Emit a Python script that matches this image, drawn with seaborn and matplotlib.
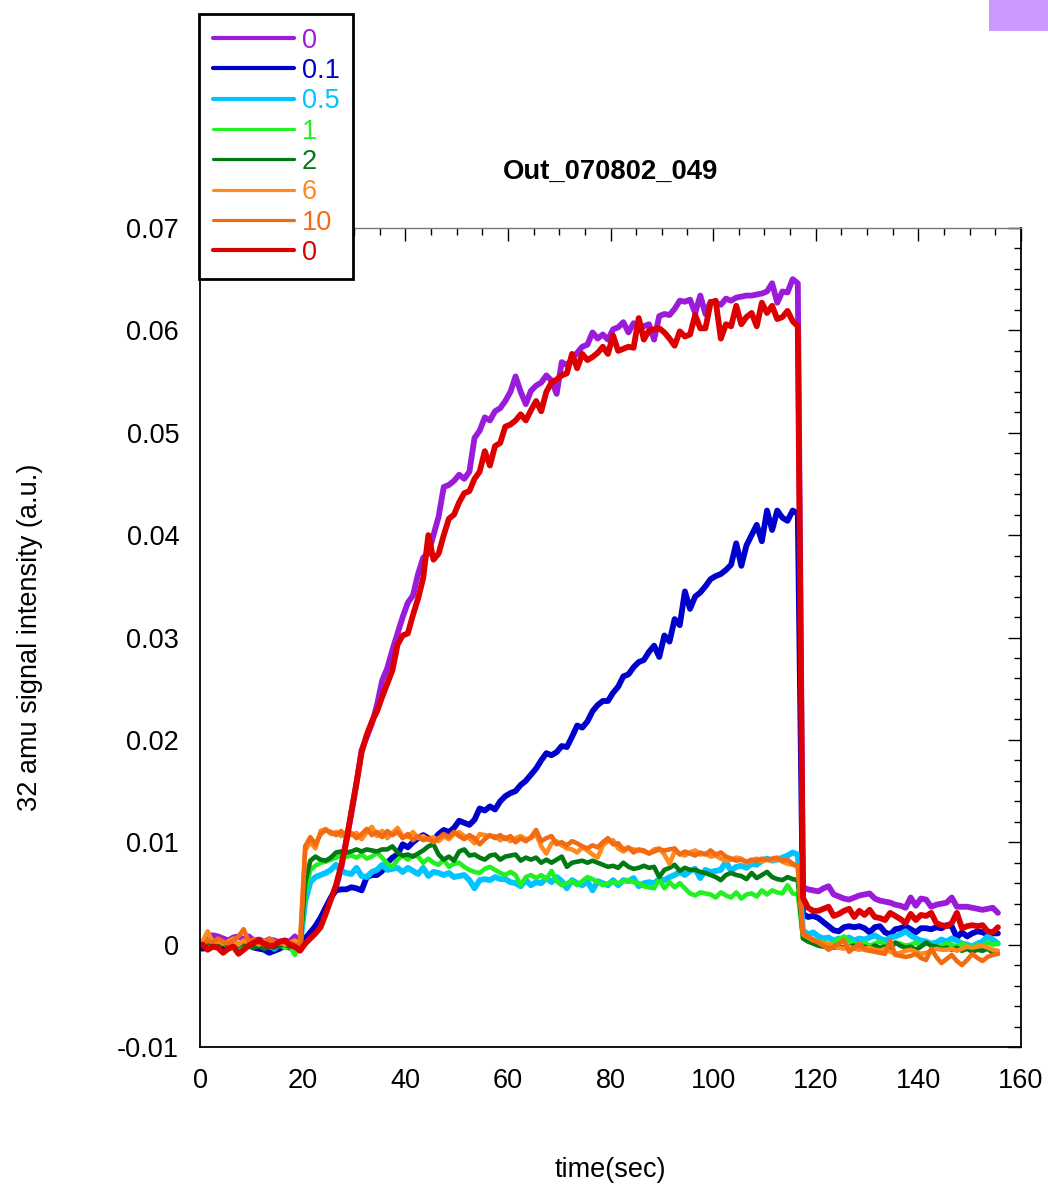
import numpy as np
import pandas as pd
import matplotlib
matplotlib.use("Agg")
import matplotlib.pyplot as plt
import seaborn as sns
from matplotlib.lines import Line2D
from matplotlib.patches import Rectangle
from matplotlib.ticker import MultipleLocator, FuncFormatter

# 1 s sampling clock of the mass spectrometer trace
time_s = np.arange(156) + 0.5

series_labels = ["0", "0.1", "0.5", "1", "2", "6", "10", "0"]
series_colors = ["#9A1BD9", "#0000CC", "#00C4FF", "#22F022", "#007A12",
                 "#FF8A1E", "#F26A12", "#DD0000"]
series_widths = [4.2, 4.2, 4.2, 3.3, 3.3, 3.3, 3.3, 4.2]
legend_widths = [3.0, 3.0, 3.0, 2.3, 2.3, 2.3, 2.3, 3.0]

sig_0_first = [
    0.0002, 0.0009, 0.0009, 0.0008, 0.0006, 0.0004, 0.0007, 0.0008, 0.0005, 0.0008,
    0.0004, 0.0005, 0.0003, 0.0005, 0.0004, 0.0002, 0.0004, 0.0003, 0.0008, 0.0001,
    0.0003, 0.0010, 0.0018, 0.0026, 0.0036, 0.0045, 0.0056, 0.0074, 0.0102, 0.0128,
    0.0158, 0.0190, 0.0203, 0.0216, 0.0234, 0.0258, 0.0270, 0.0288, 0.0304, 0.0320,
    0.0334, 0.0341, 0.0362, 0.0378, 0.0382, 0.0400, 0.0418, 0.0447, 0.0449, 0.0453,
    0.0459, 0.0455, 0.0462, 0.0495, 0.0502, 0.0515, 0.0512, 0.0521, 0.0524, 0.0531,
    0.0540, 0.0555, 0.0540, 0.0528, 0.0541, 0.0546, 0.0549, 0.0556, 0.0551, 0.0538,
    0.0569, 0.0566, 0.0572, 0.0578, 0.0584, 0.0586, 0.0598, 0.0592, 0.0596, 0.0591,
    0.0601, 0.0603, 0.0608, 0.0598, 0.0607, 0.0605, 0.0604, 0.0606, 0.0591, 0.0614,
    0.0616, 0.0615, 0.0621, 0.0629, 0.0628, 0.0630, 0.0617, 0.0634, 0.0616, 0.0628,
    0.0627, 0.0625, 0.0631, 0.0629, 0.0632, 0.0633, 0.0634, 0.0634, 0.0635, 0.0636,
    0.0638, 0.0646, 0.0627, 0.0638, 0.0637, 0.0650, 0.0646,
    0.0056, 0.0054, 0.0053,
    0.0052, 0.0055, 0.0057, 0.0049, 0.0047, 0.0045, 0.0044, 0.0046, 0.0048, 0.0049,
    0.0050, 0.0045, 0.0043, 0.0042, 0.0041, 0.0039, 0.0038, 0.0036, 0.0046, 0.0038,
    0.0045, 0.0044, 0.0037, 0.0039, 0.0040, 0.0041, 0.0046, 0.0037, 0.0037, 0.0037,
    0.0036, 0.0035, 0.0034, 0.0035, 0.0036, 0.0031,
]

sig_0p1 = [
    -0.0004, -0.0003, -0.0001, 0.0002, -0.0002, -0.0001, 0.0001, -0.0004, -0.0002, 0.0001,
    -0.0003, -0.0004, -0.0005, -0.0008, -0.0006, -0.0004, -0.0001, -0.0003, -0.0001, -0.0002,
    0.0006, 0.0012, 0.0018, 0.0026, 0.0036, 0.0046, 0.0053, 0.0054, 0.0054, 0.0056,
    0.0055, 0.0053, 0.0066, 0.0068, 0.0068, 0.0072, 0.0080, 0.0085, 0.0088, 0.0098,
    0.0095, 0.0100, 0.0104, 0.0107, 0.0104, 0.0102, 0.0108, 0.0112, 0.0110, 0.0114,
    0.0121, 0.0119, 0.0117, 0.0122, 0.0133, 0.0131, 0.0135, 0.0132, 0.0140, 0.0145,
    0.0148, 0.0150, 0.0156, 0.0160, 0.0166, 0.0172, 0.0180, 0.0187, 0.0185, 0.0188,
    0.0194, 0.0193, 0.0203, 0.0214, 0.0212, 0.0218, 0.0228, 0.0234, 0.0238, 0.0238,
    0.0246, 0.0252, 0.0262, 0.0264, 0.0271, 0.0276, 0.0278, 0.0286, 0.0292, 0.0281,
    0.0302, 0.0296, 0.0318, 0.0312, 0.0345, 0.0328, 0.0340, 0.0344, 0.0350, 0.0357,
    0.0360, 0.0362, 0.0366, 0.0371, 0.0392, 0.0370, 0.0390, 0.0400, 0.0410, 0.0394,
    0.0424, 0.0405, 0.0424, 0.0417, 0.0414, 0.0424, 0.0421,
    0.0030, 0.0027, 0.0028,
    0.0026, 0.0022, 0.0018, 0.0014, 0.0013, 0.0017, 0.0018, 0.0017, 0.0018, 0.0016,
    0.0012, 0.0017, 0.0018, 0.0012, 0.0010, 0.0015, 0.0016, 0.0018, 0.0015, 0.0012,
    0.0016, 0.0016, 0.0015, 0.0017, 0.0016, 0.0019, 0.0018, 0.0007, 0.0012, 0.0008,
    0.0011, 0.0013, 0.0012, 0.0010, 0.0011, 0.0011,
]

sig_0p5 = [
    0.0001, 0.0003, -0.0002, 0.0000, 0.0002, -0.0001, 0.0001, -0.0003, 0.0000, 0.0002,
    -0.0002, 0.0001, -0.0003, -0.0001, -0.0004, 0.0000, -0.0002, 0.0001, 0.0002, 0.0000,
    0.0042, 0.0061, 0.0066, 0.0068, 0.0070, 0.0073, 0.0078, 0.0072, 0.0070, 0.0069,
    0.0075, 0.0067, 0.0066, 0.0071, 0.0073, 0.0078, 0.0073, 0.0074, 0.0075, 0.0071,
    0.0075, 0.0072, 0.0069, 0.0075, 0.0067, 0.0071, 0.0070, 0.0068, 0.0070, 0.0066,
    0.0067, 0.0068, 0.0063, 0.0055, 0.0063, 0.0064, 0.0063, 0.0066, 0.0064, 0.0064,
    0.0061, 0.0060, 0.0057, 0.0063, 0.0058, 0.0061, 0.0060, 0.0065, 0.0061, 0.0066,
    0.0062, 0.0055, 0.0063, 0.0060, 0.0058, 0.0062, 0.0053, 0.0062, 0.0060, 0.0058,
    0.0063, 0.0058, 0.0063, 0.0062, 0.0065, 0.0057, 0.0060, 0.0061, 0.0060, 0.0064,
    0.0063, 0.0066, 0.0068, 0.0071, 0.0068, 0.0072, 0.0074, 0.0065, 0.0073, 0.0071,
    0.0072, 0.0073, 0.0081, 0.0072, 0.0076, 0.0077, 0.0075, 0.0079, 0.0078, 0.0082,
    0.0084, 0.0082, 0.0083, 0.0085, 0.0087, 0.0090, 0.0088,
    0.0014, 0.0010, 0.0012,
    0.0008, 0.0006, 0.0007, 0.0004, 0.0006, 0.0005, 0.0007, 0.0004, 0.0006, 0.0005,
    0.0007, 0.0009, 0.0006, 0.0004, 0.0007, 0.0008, 0.0010, 0.0013, 0.0009, 0.0006,
    0.0004, 0.0003, 0.0001, 0.0002, 0.0005, 0.0003, 0.0006, 0.0004, 0.0001, 0.0000,
    -0.0002, 0.0001, 0.0003, 0.0008, 0.0005, 0.0001,
]

sig_1 = [
    0.0002, 0.0004, -0.0001, 0.0001, 0.0003, -0.0002, 0.0000, 0.0001, -0.0002, 0.0001,
    -0.0001, 0.0002, -0.0003, 0.0000, -0.0002, 0.0001, -0.0003, -0.0002, -0.0010, 0.0000,
    0.0050, 0.0073, 0.0077, 0.0080, 0.0081, 0.0083, 0.0085, 0.0087, 0.0086, 0.0087,
    0.0085, 0.0088, 0.0084, 0.0086, 0.0090, 0.0085, 0.0079, 0.0076, 0.0083, 0.0087,
    0.0083, 0.0087, 0.0086, 0.0080, 0.0084, 0.0080, 0.0078, 0.0083, 0.0076, 0.0079,
    0.0080, 0.0076, 0.0073, 0.0071, 0.0070, 0.0074, 0.0076, 0.0073, 0.0070, 0.0068,
    0.0071, 0.0068, 0.0058, 0.0066, 0.0068, 0.0065, 0.0068, 0.0064, 0.0072, 0.0062,
    0.0058, 0.0060, 0.0062, 0.0058, 0.0062, 0.0066, 0.0064, 0.0061, 0.0058, 0.0060,
    0.0061, 0.0060, 0.0062, 0.0063, 0.0061, 0.0060, 0.0057, 0.0056, 0.0055, 0.0064,
    0.0055, 0.0061, 0.0056, 0.0060, 0.0055, 0.0050, 0.0048, 0.0051, 0.0050, 0.0049,
    0.0046, 0.0051, 0.0048, 0.0046, 0.0051, 0.0045, 0.0049, 0.0050, 0.0047, 0.0053,
    0.0049, 0.0053, 0.0051, 0.0050, 0.0058, 0.0050, 0.0049,
    0.0008, 0.0004, 0.0002,
    0.0001, 0.0003, 0.0000, 0.0002, 0.0005, 0.0008, 0.0003, 0.0001, 0.0000, 0.0002,
    -0.0001, 0.0001, 0.0003, 0.0000, -0.0002, 0.0002, 0.0001, -0.0001, 0.0000, 0.0002,
    -0.0001, 0.0001, 0.0000, -0.0003, -0.0001, 0.0001, 0.0000, -0.0002, 0.0001, -0.0001,
    -0.0003, 0.0000, -0.0002, 0.0002, 0.0000, 0.0001,
]

sig_2 = [
    -0.0001, 0.0002, 0.0000, -0.0002, 0.0001, 0.0000, -0.0003, -0.0001, 0.0001, -0.0002,
    -0.0003, -0.0001, -0.0004, -0.0002, -0.0003, -0.0001, 0.0000, -0.0002, -0.0001, -0.0003,
    0.0060, 0.0082, 0.0086, 0.0083, 0.0082, 0.0085, 0.0090, 0.0091, 0.0090, 0.0091,
    0.0093, 0.0091, 0.0093, 0.0092, 0.0091, 0.0093, 0.0093, 0.0096, 0.0090, 0.0087,
    0.0088, 0.0086, 0.0089, 0.0092, 0.0096, 0.0098, 0.0088, 0.0083, 0.0086, 0.0082,
    0.0091, 0.0093, 0.0087, 0.0088, 0.0085, 0.0083, 0.0087, 0.0088, 0.0083, 0.0086,
    0.0087, 0.0088, 0.0082, 0.0085, 0.0083, 0.0085, 0.0080, 0.0083, 0.0080, 0.0083,
    0.0086, 0.0076, 0.0080, 0.0081, 0.0082, 0.0080, 0.0082, 0.0080, 0.0078, 0.0076,
    0.0077, 0.0075, 0.0080, 0.0076, 0.0074, 0.0075, 0.0077, 0.0075, 0.0076, 0.0066,
    0.0073, 0.0075, 0.0078, 0.0072, 0.0075, 0.0073, 0.0073, 0.0071, 0.0070, 0.0068,
    0.0066, 0.0063, 0.0068, 0.0070, 0.0068, 0.0067, 0.0064, 0.0070, 0.0065, 0.0068,
    0.0071, 0.0066, 0.0064, 0.0063, 0.0066, 0.0064, 0.0063,
    0.0006, 0.0003, 0.0001,
    -0.0001, -0.0002, -0.0001, -0.0003, -0.0002, -0.0003, -0.0002, -0.0001, -0.0003, -0.0002,
    -0.0004, -0.0001, -0.0003, -0.0002, -0.0004, 0.0002, -0.0001, -0.0003, -0.0002, -0.0005,
    -0.0002, 0.0002, -0.0001, -0.0002, -0.0004, -0.0003, -0.0005, -0.0003, -0.0006, -0.0004,
    -0.0007, -0.0005, -0.0006, -0.0004, -0.0008, -0.0009,
]

sig_6 = [
    0.0003, 0.0013, 0.0002, 0.0004, 0.0001, 0.0003, 0.0006, 0.0000, 0.0004, 0.0002,
    0.0003, 0.0000, 0.0004, 0.0002, 0.0001, 0.0003, 0.0000, 0.0002, 0.0004, 0.0001,
    0.0092, 0.0100, 0.0094, 0.0111, 0.0113, 0.0108, 0.0110, 0.0106, 0.0110, 0.0107,
    0.0109, 0.0103, 0.0110, 0.0115, 0.0106, 0.0111, 0.0104, 0.0109, 0.0114, 0.0106,
    0.0105, 0.0110, 0.0104, 0.0106, 0.0102, 0.0105, 0.0101, 0.0106, 0.0103, 0.0108,
    0.0110, 0.0106, 0.0104, 0.0099, 0.0108, 0.0107, 0.0106, 0.0106, 0.0102, 0.0105,
    0.0101, 0.0104, 0.0106, 0.0103, 0.0104, 0.0108, 0.0096, 0.0089, 0.0099, 0.0101,
    0.0097, 0.0094, 0.0093, 0.0090, 0.0095, 0.0092, 0.0088, 0.0085, 0.0097, 0.0101,
    0.0102, 0.0094, 0.0091, 0.0094, 0.0093, 0.0092, 0.0091, 0.0089, 0.0093, 0.0094,
    0.0088, 0.0079, 0.0091, 0.0089, 0.0087, 0.0090, 0.0092, 0.0088, 0.0089, 0.0086,
    0.0087, 0.0084, 0.0082, 0.0083, 0.0085, 0.0084, 0.0080, 0.0082, 0.0084, 0.0081,
    0.0083, 0.0082, 0.0084, 0.0081, 0.0079, 0.0078, 0.0076,
    0.0010, 0.0007, 0.0004,
    0.0003, 0.0001, 0.0001, -0.0002, -0.0003, -0.0004, -0.0002, -0.0004, -0.0005, -0.0004,
    -0.0003, -0.0005, -0.0006, -0.0004, -0.0007, -0.0009, -0.0008, -0.0006, -0.0005, -0.0007,
    -0.0009, -0.0008, -0.0006, -0.0004, -0.0005, -0.0005, -0.0004, -0.0006, -0.0004, -0.0002,
    -0.0003, -0.0002, -0.0001, -0.0003, -0.0005, -0.0006,
]

sig_10 = [
    0.0000, 0.0004, 0.0002, 0.0006, 0.0003, 0.0001, 0.0004, 0.0008, 0.0015, 0.0003,
    0.0005, 0.0002, 0.0000, 0.0006, 0.0003, 0.0001, 0.0004, 0.0002, 0.0000, -0.0001,
    0.0096, 0.0105, 0.0098, 0.0108, 0.0112, 0.0110, 0.0107, 0.0111, 0.0104, 0.0109,
    0.0104, 0.0108, 0.0113, 0.0107, 0.0110, 0.0105, 0.0111, 0.0107, 0.0110, 0.0104,
    0.0108, 0.0102, 0.0106, 0.0102, 0.0104, 0.0100, 0.0104, 0.0108, 0.0105, 0.0110,
    0.0106, 0.0103, 0.0107, 0.0104, 0.0098, 0.0103, 0.0107, 0.0104, 0.0107, 0.0103,
    0.0106, 0.0100, 0.0104, 0.0101, 0.0105, 0.0112, 0.0101, 0.0104, 0.0106, 0.0098,
    0.0100, 0.0097, 0.0101, 0.0099, 0.0096, 0.0094, 0.0097, 0.0095, 0.0100, 0.0104,
    0.0098, 0.0099, 0.0093, 0.0095, 0.0090, 0.0093, 0.0092, 0.0089, 0.0091, 0.0093,
    0.0092, 0.0093, 0.0094, 0.0088, 0.0091, 0.0089, 0.0087, 0.0090, 0.0088, 0.0092,
    0.0088, 0.0090, 0.0086, 0.0084, 0.0082, 0.0083, 0.0081, 0.0083, 0.0082, 0.0084,
    0.0083, 0.0084, 0.0085, 0.0082, 0.0083, 0.0079, 0.0077,
    0.0011, 0.0008, 0.0005,
    0.0002, -0.0001, -0.0005, -0.0002, 0.0001, 0.0004, -0.0007, -0.0003, 0.0001, -0.0005,
    -0.0006, -0.0007, -0.0008, -0.0009, 0.0004, -0.0010, -0.0011, -0.0012, -0.0011, -0.0009,
    -0.0013, -0.0015, -0.0004, -0.0012, -0.0018, -0.0014, -0.0010, -0.0016, -0.0020, -0.0015,
    -0.0009, -0.0013, -0.0016, -0.0012, -0.0010, -0.0009,
]

sig_0_last = [
    0.0000, -0.0005, -0.0002, -0.0003, -0.0008, -0.0004, -0.0002, -0.0009, -0.0005, -0.0001,
    0.0002, 0.0004, 0.0001, -0.0001, -0.0001, 0.0003, 0.0004, 0.0000, -0.0002, -0.0006,
    0.0001, 0.0006, 0.0011, 0.0017, 0.0030, 0.0044, 0.0058, 0.0077, 0.0100, 0.0130,
    0.0158, 0.0188, 0.0205, 0.0218, 0.0228, 0.0242, 0.0255, 0.0268, 0.0293, 0.0302,
    0.0304, 0.0322, 0.0338, 0.0358, 0.0400, 0.0376, 0.0382, 0.0400, 0.0416, 0.0420,
    0.0432, 0.0441, 0.0443, 0.0455, 0.0462, 0.0482, 0.0468, 0.0487, 0.0490, 0.0506,
    0.0508, 0.0512, 0.0518, 0.0512, 0.0522, 0.0531, 0.0521, 0.0540, 0.0549, 0.0552,
    0.0556, 0.0558, 0.0577, 0.0563, 0.0577, 0.0571, 0.0574, 0.0578, 0.0584, 0.0577,
    0.0595, 0.0580, 0.0582, 0.0584, 0.0583, 0.0612, 0.0591, 0.0600, 0.0601, 0.0602,
    0.0598, 0.0592, 0.0585, 0.0599, 0.0594, 0.0596, 0.0615, 0.0602, 0.0602, 0.0627,
    0.0629, 0.0592, 0.0606, 0.0604, 0.0624, 0.0606, 0.0613, 0.0617, 0.0604, 0.0627,
    0.0617, 0.0624, 0.0611, 0.0613, 0.0619, 0.0609, 0.0604,
    0.0046, 0.0036, 0.0033,
    0.0033, 0.0035, 0.0037, 0.0028, 0.0030, 0.0033, 0.0035, 0.0027, 0.0033, 0.0029,
    0.0034, 0.0027, 0.0026, 0.0024, 0.0031, 0.0028, 0.0025, 0.0021, 0.0030, 0.0024,
    0.0029, 0.0028, 0.0031, 0.0021, 0.0019, 0.0018, 0.0021, 0.0031, 0.0016, 0.0018,
    0.0019, 0.0018, 0.0019, 0.0013, 0.0012, 0.0017,
]

all_series = [sig_0_first, sig_0p1, sig_0p5, sig_1, sig_2, sig_6, sig_10, sig_0_last]

sns.set_theme(style="white")
plt.rcParams["font.family"] = ["Liberation Sans", "DejaVu Sans"]
plt.rcParams["text.color"] = "black"
plt.rcParams["axes.labelcolor"] = "black"
FS = 19.5

W, H = 1048, 1187
fig = plt.figure(figsize=(W / 100, H / 100), dpi=100)
ax = fig.add_axes([200 / W, 1 - 1047 / H, 821 / W, 819 / H])

for values, color, lw in zip(all_series, series_colors, series_widths):
    df = pd.DataFrame({"time": time_s, "signal": values})
    sns.lineplot(data=df, x="time", y="signal", color=color, linewidth=lw,
                 estimator=None, ax=ax)

ax.set_xlim(0, 160)
ax.set_ylim(-0.01, 0.07)
ax.xaxis.set_major_locator(MultipleLocator(20))
ax.xaxis.set_minor_locator(MultipleLocator(5))
ax.yaxis.set_major_locator(MultipleLocator(0.01))
ax.yaxis.set_minor_locator(MultipleLocator(0.002))
ax.yaxis.set_major_formatter(FuncFormatter(lambda v, p: "0" if abs(v) < 1e-9 else f"{v:.2f}".rstrip("0")))
ax.xaxis.set_major_formatter(FuncFormatter(lambda v, p: f"{v:.0f}"))

ax.tick_params(which="both", direction="in", top=True, right=True,
               colors="black", width=1.0)
ax.tick_params(which="major", length=9.5, labelsize=FS, pad=15)
ax.tick_params(which="minor", length=5)

for side, sp in ax.spines.items():
    sp.set_visible(True)
    sp.set_color("black")
    sp.set_linewidth(1.3)
ax.spines["top"].set_color("#777777")
ax.spines["top"].set_linewidth(1.0)

ax.set_xlabel("time(sec)", fontsize=FS, color="black")
ax.xaxis.label.set_verticalalignment("center")
ax.xaxis.set_label_coords(0.5, (1047 - 1170) / 819)
ax.set_ylabel("32 amu signal intensity (a.u.)", fontsize=FS, color="black")
ax.yaxis.label.set_verticalalignment("center")
ax.yaxis.set_label_coords((30 - 200) / 821, 0.5)

ax.set_title("Out_070802_049", fontsize=19.8, fontweight="bold", color="black",
             y=(1047 - 180) / 819, va="center")

handles = [Line2D([], [], color=c, linewidth=lw) for c, lw in zip(series_colors, legend_widths)]
leg = fig.legend(handles, series_labels, loc="upper left",
                 bbox_to_anchor=(199 / W, 1 - 14 / H), bbox_transform=fig.transFigure,
                 frameon=True, fancybox=False, framealpha=1, edgecolor="black",
                 fontsize=FS, handlelength=3.0, handletextpad=0.3,
                 labelspacing=0.16, borderpad=0.5, borderaxespad=0,
                 labelcolor=series_colors)
leg.get_frame().set_linewidth(2)

fig.add_artist(Rectangle((989 / W, 1 - 31 / H), 59 / W, 31 / H,
                         transform=fig.transFigure, facecolor="#CC99FF",
                         edgecolor="none"))

fig.savefig("out.png", dpi=100, facecolor="white")
